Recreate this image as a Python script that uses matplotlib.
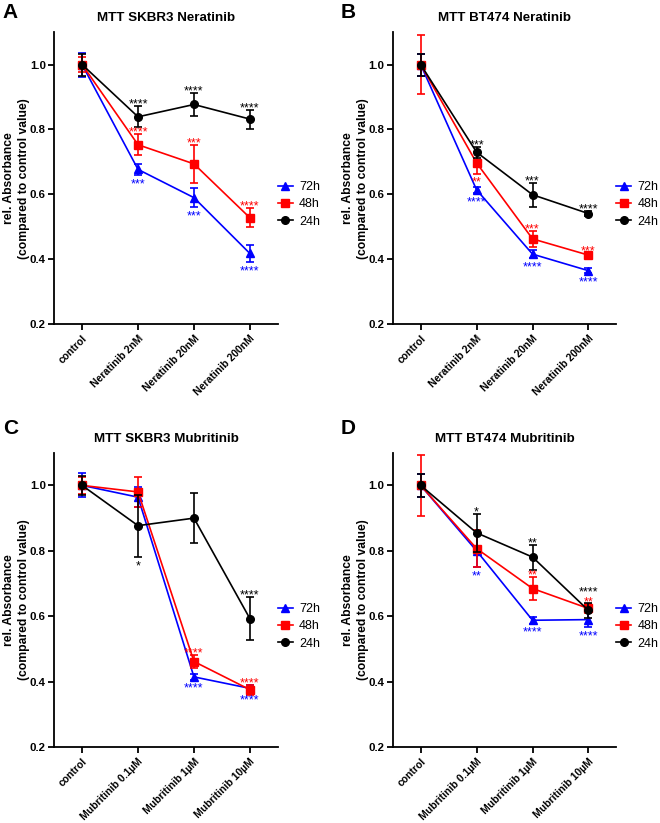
import matplotlib
matplotlib.use("Agg")
import matplotlib.pyplot as plt

plt.rcParams['font.family'] = ['Liberation Sans', 'DejaVu Sans']

# x categories
ner_labels = ['control', 'Neratinib 2nM', 'Neratinib 20nM', 'Neratinib 200nM']
mub_labels = ['control', 'Mubritinib 0.1\u00b5M', 'Mubritinib 1\u00b5M', 'Mubritinib 10\u00b5M']

# A: MTT SKBR3 Neratinib
a_72 = [1.0, 0.677, 0.590, 0.418]
a_72_err = [0.037, 0.017, 0.030, 0.027]
a_48 = [1.0, 0.753, 0.694, 0.528]
a_48_err = [0.023, 0.033, 0.059, 0.029]
a_24 = [1.0, 0.839, 0.877, 0.832]
a_24_err = [0.034, 0.032, 0.034, 0.029]
a_stars_72 = ['', '***', '***', '****']
a_stars_48 = ['', '****', '***', '****']
a_stars_24 = ['', '****', '****', '****']

# B: MTT BT474 Neratinib
b_72 = [1.0, 0.614, 0.416, 0.365]
b_72_err = [0.034, 0.010, 0.012, 0.008]
b_48 = [1.0, 0.697, 0.463, 0.413]
b_48_err = [0.092, 0.033, 0.025, 0.005]
b_24 = [1.0, 0.730, 0.599, 0.541]
b_24_err = [0.034, 0.017, 0.037, 0.009]
b_stars_72 = ['', '****', '****', '****']
b_stars_48 = ['', '**', '***', '***']
b_stars_24 = ['', '***', '***', '****']

# C: MTT SKBR3 Mubritinib
c_72 = [1.0, 0.964, 0.415, 0.380]
c_72_err = [0.037, 0.030, 0.008, 0.010]
c_48 = [1.0, 0.980, 0.462, 0.376]
c_48_err = [0.025, 0.046, 0.020, 0.015]
c_24 = [1.0, 0.877, 0.900, 0.593]
c_24_err = [0.030, 0.095, 0.077, 0.066]
c_stars_72 = ['', '', '****', '****']
c_stars_48 = ['', '', '****', '****']
c_stars_24 = ['', '*', '', '****']

# D: MTT BT474 Mubritinib
d_72 = [1.0, 0.800, 0.588, 0.590]
d_72_err = [0.034, 0.050, 0.010, 0.022]
d_48 = [1.0, 0.807, 0.685, 0.624]
d_48_err = [0.092, 0.057, 0.034, 0.013]
d_24 = [1.0, 0.855, 0.781, 0.618]
d_24_err = [0.034, 0.057, 0.038, 0.022]
d_stars_72 = ['', '**', '****', '****']
d_stars_48 = ['', '', '**', '**']
d_stars_24 = ['', '*', '**', '****']

# star placement: a = above error bar, A = above with extra gap, b = below
star_offsets = {'a': -1, 'A': 5.5, 'b': -8.8}


def draw_panel(ax, title, labels, series, stars_pos):
    x = list(range(len(labels)))
    for (name, vals, errs, color, marker, stars), pos in zip(series, stars_pos):
        ax.errorbar(x, vals, yerr=errs, fmt='none', ecolor=color,
                    elinewidth=1.2, capsize=3, capthick=1.2)
        ax.plot(x, vals, color=color, marker=marker, markersize=5.5,
                linewidth=1.2, label=name)
        for i, s in enumerate(stars):
            if not s:
                continue
            p = pos[i]
            yref = vals[i] - errs[i] if p == 'b' else vals[i] + errs[i]
            ax.annotate(s, (i, yref), xytext=(0, star_offsets[p]), textcoords='offset points',
                        ha='center', va='baseline', fontsize=9, color=color)
    ax.set_xlim(-0.5, 3.5)
    ax.set_ylim(0.2, 1.1)
    ax.set_yticks([0.2, 0.4, 0.6, 0.8, 1.0])
    ax.set_yticklabels(['0.2', '0.4', '0.6', '0.8', '1.0'], fontsize=8.2, fontweight='bold')
    ax.set_xticks(x)
    ax.set_xticklabels(labels, rotation=45, ha='right', rotation_mode='anchor',
                       fontsize=7.5, fontweight='bold')
    ax.spines['top'].set_visible(False)
    ax.spines['right'].set_visible(False)
    ax.spines['left'].set_linewidth(1.3)
    ax.spines['bottom'].set_linewidth(1.3)
    ax.tick_params(width=1.3, length=4)
    ax.tick_params(axis='y', pad=2)
    ax.tick_params(axis='x', pad=2.5)
    ax.set_ylabel('rel. Absorbance\n(compared to control value)', fontsize=8.7,
                  fontweight='bold', linespacing=1.3)
    ax.yaxis.set_label_coords(-0.108, 0.5)
    ax.set_title(title, fontsize=9.6, fontweight='bold', pad=8)
    ax.legend(loc='center left', bbox_to_anchor=(1.0, 0.41), frameon=False, fontsize=9,
              handlelength=1.2, handletextpad=0.5, labelspacing=0.42, borderaxespad=0,
              borderpad=0)


fig = plt.figure(figsize=(6.6, 8.23), dpi=100)
axA = fig.add_axes([0.082, 0.606, 0.339, 0.355])
axB = fig.add_axes([0.595, 0.606, 0.339, 0.355])
axC = fig.add_axes([0.082, 0.092, 0.339, 0.358])
axD = fig.add_axes([0.595, 0.092, 0.339, 0.358])

draw_panel(axA, 'MTT SKBR3 Neratinib', ner_labels,
           [('72h', a_72, a_72_err, 'blue', '^', a_stars_72),
            ('48h', a_48, a_48_err, 'red', 's', a_stars_48),
            ('24h', a_24, a_24_err, 'black', 'o', a_stars_24)],
           ['bbbb', 'aaaa', 'aaaa'])
draw_panel(axB, 'MTT BT474 Neratinib', ner_labels,
           [('72h', b_72, b_72_err, 'blue', '^', b_stars_72),
            ('48h', b_48, b_48_err, 'red', 's', b_stars_48),
            ('24h', b_24, b_24_err, 'black', 'o', b_stars_24)],
           ['bbbb', 'abaa', 'aaaa'])
draw_panel(axC, 'MTT SKBR3 Mubritinib', mub_labels,
           [('72h', c_72, c_72_err, 'blue', '^', c_stars_72),
            ('48h', c_48, c_48_err, 'red', 's', c_stars_48),
            ('24h', c_24, c_24_err, 'black', 'o', c_stars_24)],
           ['bbbb', 'aaaa', 'abaa'])
draw_panel(axD, 'MTT BT474 Mubritinib', mub_labels,
           [('72h', d_72, d_72_err, 'blue', '^', d_stars_72),
            ('48h', d_48, d_48_err, 'red', 's', d_stars_48),
            ('24h', d_24, d_24_err, 'black', 'o', d_stars_24)],
           ['bbbb', 'aaaa', 'aaaA'])

# panel letters
fig.text(0.004, 0.996, 'A', fontsize=15, fontweight='bold', va='top', ha='left')
fig.text(0.516, 0.996, 'B', fontsize=15, fontweight='bold', va='top', ha='left')
fig.text(0.004, 0.491, 'C', fontsize=15, fontweight='bold', va='top', ha='left')
fig.text(0.516, 0.491, 'D', fontsize=15, fontweight='bold', va='top', ha='left')

fig.savefig('out.png', dpi=100)
